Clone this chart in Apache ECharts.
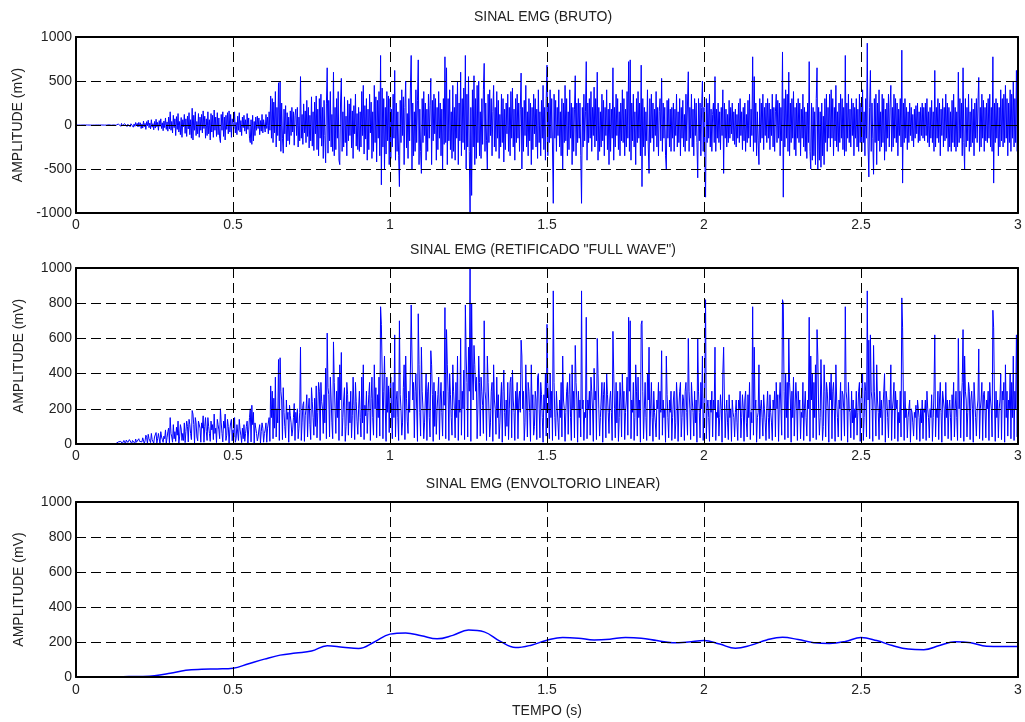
<!DOCTYPE html>
<html>
<head>
<meta charset="utf-8">
<script src="https://cdn.jsdelivr.net/npm/echarts@6/dist/echarts.min.js"></script>
<style>html,body{margin:0;padding:0;background:#fff}#chart{width:1025px;height:722px}</style>
</head>
<body>
<div id="chart"></div>
<script>
// ---- data ----
const SAMPLE_STEP = 0.0025;   // seconds between samples of the raw / rectified signals
const rawSignal = [
0,1,0,-1,1,0,-1,1,0,0,1,-1,0,1,-1,0,1,0,-1,1,0,-1,1,0,-1,1,0,0,1,-1,0,1,-1,0,1,0,-1,1,0,-1,
1,-1,2,-1,1,-2,2,-1,1,-2,2,-3,8,-5,12,-10,6,-15,18,-8,10,-20,15,-6,22,-18,9,-12,25,-20,14,-8,20,-25,12,-15,28,-10,18,-22,
30,-15,25,-40,12,-35,45,-20,18,-50,38,-10,55,-30,22,-45,60,-25,15,-55,40,-35,65,-20,30,-60,50,-15,70,-40,25,-65,45,-30,80,-50,35,-70,90,-45,
150,-60,40,-90,110,-30,70,-120,95,-50,130,-80,40,-110,85,-140,60,-20,120,-95,70,-130,100,-45,140,-110,60,-150,190,-170,110,-60,150,-120,40,-100,130,-140,90,-60,
120,-90,160,-40,100,-150,70,-120,150,-100,60,-170,130,-80,110,-140,170,-60,90,-130,140,-110,80,-150,-200,120,-60,150,-130,90,-170,110,-50,140,-100,160,-80,120,-140,70,
80,-40,150,-90,30,-110,100,-60,140,-80,50,-120,90,-30,110,-70,60,-100,130,-50,80,-150,-200,60,-220,110,-180,40,-120,90,-60,100,-40,80,-110,50,-70,120,-90,60,
60,-80,120,-40,90,-100,150,-60,330,-150,300,-200,260,-90,380,-250,200,-120,480,-180,490,-300,250,-150,-320,180,-100,220,-250,140,-180,90,-220,160,-120,200,-80,150,-230,110,
180,-120,200,-250,90,-180,550,-150,120,-220,240,-90,160,-200,280,-130,200,-260,110,-180,320,-240,150,-290,260,-100,330,-280,180,-350,300,-150,350,-240,200,-380,280,-120,-430,240,
650,-320,280,-180,380,-250,120,-300,600,-350,200,-280,300,-150,380,-400,-450,250,530,-300,150,-250,320,-200,100,-350,280,-180,240,-120,300,-260,160,-380,220,-100,350,-240,130,-280,
200,-300,150,-250,380,-120,450,-330,220,-160,300,-400,180,-280,350,-90,260,-380,150,-300,450,-200,320,-420,280,-150,380,-350,790,-680,420,-250,300,-500,200,-330,380,-180,330,-450,
300,-380,180,-250,350,-150,620,-400,250,-300,150,-350,-700,280,-200,400,-120,320,-450,200,500,-260,130,-380,300,-180,420,790,-500,250,-350,150,-300,400,-200,280,740,-450,180,-300,
-550,300,-200,380,-120,250,-400,180,-300,350,-150,220,530,-450,280,-180,350,-100,300,-400,200,-280,380,-150,250,-350,180,-500,300,-220,775,-200,650,-450,300,-180,400,-280,150,-380,
450,-300,200,-400,350,-150,500,-450,250,-180,600,-350,300,-200,420,-280,790,-500,350,-250,550,-300,-1000,200,-800,400,-250,560,-450,300,-380,450,-200,500,-350,150,-380,300,-220,400,
700,-300,250,-180,-500,350,-200,400,-120,300,-350,150,450,-250,200,-300,380,-150,280,-380,120,-250,350,-200,300,-420,180,-280,250,-100,350,-300,200,-350,380,-150,420,-250,180,-400,
300,-200,350,-150,250,-300,180,590,-500,200,-300,280,-120,450,-250,150,-350,300,-180,250,-450,200,-280,350,-100,300,-250,180,-380,400,-200,150,-350,280,-150,450,-280,200,-400,300,
680,-350,250,-200,400,-150,300,-250,-890,350,-150,280,-300,200,-120,400,-250,150,-350,300,-500,250,-200,450,-180,300,-350,150,-280,400,-150,250,-450,200,-300,180,560,-350,250,-200,
300,-150,250,-350,-890,200,-250,350,-180,150,720,-400,250,-200,300,-150,380,-300,200,-120,430,-250,300,-180,600,-400,200,-300,150,-250,350,-180,280,-350,200,-120,400,-280,180,-450,
250,-300,180,-150,650,-400,200,-250,350,-120,300,-280,150,-350,250,-180,400,-200,300,-350,180,-250,380,-150,720,-300,740,-400,250,-180,350,-250,150,-450,300,-200,380,-150,250,-350,
680,-700,300,-250,200,-350,150,-180,400,-250,-550,300,-200,350,-150,250,-300,180,-120,380,-250,200,-350,150,300,-180,530,-300,250,-150,200,-350,-500,280,-150,300,-250,180,-300,200,
-150,250,-300,180,-120,350,-250,150,-200,300,-350,200,-150,280,-250,120,-300,350,-180,250,605,-300,200,-150,350,-250,180,-350,300,-120,250,-200,-600,300,-180,250,-350,200,500,-300,
200,-350,-820,300,-200,250,-150,350,-250,180,-300,120,250,-200,550,-300,180,-150,250,-200,150,-280,200,-120,400,-550,250,-150,180,-250,120,-200,280,-150,200,-100,250,-180,150,-220,
180,-250,120,-150,250,-200,300,-120,150,-280,200,-180,250,-300,120,-200,280,-150,350,-250,180,-120,775,-300,550,-200,250,-350,150,-180,-450,300,-200,250,-150,350,-280,200,-120,250,
-200,300,-150,250,-280,180,-120,350,-250,200,-300,150,350,-200,280,-150,250,-350,200,-180,830,-820,300,-250,400,-150,350,-300,600,-350,250,-200,300,-150,380,-280,200,-350,250,-150,
300,-200,250,-350,180,-150,350,-250,200,-300,150,-380,250,-200,720,-300,-500,250,-400,200,-350,150,-450,300,650,-500,200,-400,150,-480,250,-350,100,-450,300,-200,350,-300,200,-150,
350,-250,400,-150,300,-350,200,-180,450,-250,150,-300,250,-200,350,-150,300,-280,200,-350,790,-300,250,-150,350,-200,180,-250,300,-120,250,-350,200,-150,300,-250,180,-300,350,-200,
250,-300,400,-200,150,-350,300,-150,930,-250,-590,200,620,-300,250,-150,-560,300,-200,350,-450,250,-180,400,-300,150,-250,350,-200,300,-400,180,-300,250,-150,350,-250,200,450,-300,
200,-250,350,-150,300,-200,250,-350,180,-120,300,-250,850,-660,250,-200,300,-150,200,-280,150,-200,250,-120,200,-180,120,-250,180,-150,220,-100,250,-200,150,-180,200,-120,250,-150,
200,-180,250,-120,300,-200,150,-250,200,-150,280,-200,150,-300,620,-250,200,-150,300,-200,250,-350,180,-120,300,-250,200,-180,350,-150,250,-300,200,-250,150,-300,280,-200,350,-250,
200,-300,150,-250,600,-200,300,-150,250,-350,650,-200,-500,300,-250,200,-180,350,-300,150,-250,300,-200,180,-350,250,-150,300,-200,250,540,-300,200,-250,350,-150,280,-300,200,-180,
250,-200,300,-150,350,-250,200,-300,775,-660,250,-200,300,-150,250,-350,200,-250,400,-180,300,-250,350,-200,450,-150,300,-350,250,-200,400,-300,350,-150,500,-250,300,-200,620,-300,
740
];
const rectifiedSignal = [
0,1,0,1,1,0,1,1,0,0,1,1,0,1,1,0,1,0,1,1,0,1,1,0,1,1,0,0,1,1,0,1,1,0,1,0,1,1,0,1,
1,1,2,1,1,2,2,1,1,2,2,3,8,5,12,2,6,15,18,3,10,20,15,1,22,18,9,4,25,20,14,2,20,25,12,3,28,10,18,5,
30,15,25,5,12,35,45,3,18,50,38,2,55,30,22,8,60,25,15,4,40,35,65,6,30,60,50,2,70,40,25,9,45,30,80,3,35,70,90,7,
150,60,40,10,110,30,70,15,95,50,130,5,40,110,85,20,60,20,120,8,70,130,100,12,140,110,60,25,190,170,110,6,150,120,40,18,130,140,90,10,
120,90,160,10,100,150,70,20,150,100,60,15,130,80,110,25,170,60,90,8,140,110,80,30,200,120,60,12,130,90,170,20,50,140,100,5,80,120,140,18,
80,40,150,10,30,110,100,20,140,80,50,8,90,30,110,15,60,100,130,5,80,150,200,12,220,110,180,6,120,90,60,18,40,80,110,4,70,120,90,10,
60,80,120,10,90,100,150,15,330,150,300,30,260,90,380,40,200,120,480,20,490,300,250,25,320,180,100,35,250,140,180,10,220,160,120,45,80,150,230,20,
180,120,200,30,90,180,550,20,120,220,240,15,160,200,280,40,200,260,110,25,320,240,150,50,260,100,330,35,180,350,300,20,350,240,200,60,280,120,430,30,
630,320,280,40,380,250,120,30,580,350,200,60,300,150,380,20,450,250,520,45,150,250,320,15,100,350,280,50,240,120,300,35,160,380,220,25,350,240,130,55,
200,300,150,40,380,120,450,25,220,160,300,60,180,280,350,20,260,380,150,50,450,200,320,35,280,150,380,45,780,680,420,30,300,500,200,15,380,180,330,65,
300,380,180,30,350,150,620,40,250,300,150,20,700,280,200,50,120,320,450,25,500,260,130,60,300,180,420,790,500,250,350,35,300,400,200,15,740,450,180,45,
550,300,200,30,120,250,400,20,300,350,150,40,530,450,280,15,350,100,300,55,200,280,380,25,250,350,180,45,300,220,775,30,650,450,300,20,400,280,150,50,
450,300,200,35,350,150,500,20,250,180,600,50,300,200,420,25,790,500,350,40,550,300,1000,15,800,400,250,560,450,300,380,30,200,500,350,45,380,300,220,60,
700,300,250,20,500,350,200,40,120,300,350,15,450,250,200,55,380,150,280,30,120,250,350,10,300,420,180,45,250,100,350,25,200,350,380,35,420,250,180,20,
300,200,350,30,250,300,180,590,500,200,300,20,120,450,250,40,350,300,180,15,450,200,280,50,100,300,250,25,380,400,200,35,350,280,150,10,280,200,400,45,
680,350,250,30,400,150,300,20,870,350,150,45,300,200,120,25,250,150,350,40,500,250,200,15,180,300,350,55,280,400,150,20,450,200,300,35,560,350,250,10,
300,150,250,40,870,200,250,20,180,150,720,30,250,200,300,50,380,300,200,15,430,250,300,25,600,400,200,45,150,250,350,10,280,350,200,35,400,280,180,60,
250,300,180,20,640,400,200,35,350,120,300,15,150,350,250,40,400,200,300,25,180,250,380,50,720,300,700,30,250,180,350,20,150,450,300,45,380,150,250,10,
680,700,300,30,200,350,150,20,400,250,550,45,200,350,150,15,300,180,120,40,250,200,350,25,300,180,530,50,250,150,200,10,500,280,150,35,250,180,300,20,
150,250,300,30,120,350,250,15,200,300,350,40,150,280,250,20,300,350,180,50,600,300,200,25,350,250,180,45,300,120,250,10,600,300,180,35,350,200,500,20,
200,350,820,30,200,250,150,15,250,180,300,40,250,200,550,20,180,150,250,45,150,280,200,10,400,550,250,35,180,250,120,25,280,150,200,15,250,180,150,40,
180,250,120,20,250,200,300,35,150,280,200,15,250,300,120,40,280,150,350,25,180,120,780,50,550,200,250,10,150,180,450,30,200,250,150,45,280,200,120,20,
200,300,150,30,280,180,120,20,250,200,300,40,350,200,280,15,250,350,200,50,820,800,300,25,400,150,350,35,600,350,250,10,300,150,380,45,200,350,250,20,
300,200,250,30,180,150,350,20,200,300,150,45,250,200,720,15,500,250,400,35,350,150,450,25,650,500,200,50,150,480,250,20,100,450,300,40,350,300,200,10,
350,250,400,30,300,350,200,15,450,250,150,40,250,200,350,20,300,280,200,45,780,300,250,10,350,200,180,35,300,120,250,25,200,150,300,50,180,300,350,15,
250,300,400,20,150,350,300,40,870,250,590,30,620,300,250,15,560,300,200,45,450,250,180,25,300,150,250,50,200,300,400,10,300,250,150,35,250,200,450,20,
200,250,350,30,300,200,250,15,180,120,300,40,830,660,250,20,300,150,200,35,150,200,250,10,200,180,120,45,180,150,220,25,250,200,150,15,200,120,250,30,
200,180,250,20,300,200,150,35,200,150,280,15,150,300,620,40,200,150,300,25,250,350,180,10,300,250,200,45,350,150,250,30,200,250,150,20,280,200,350,40,
200,300,150,20,600,200,300,35,250,350,650,15,500,300,250,40,180,350,300,25,250,300,200,10,350,250,150,45,200,250,540,30,200,250,350,20,280,300,200,35,
250,200,300,20,350,250,200,40,760,660,250,15,300,150,250,35,200,250,400,25,300,250,350,10,450,150,300,45,250,200,400,30,350,150,500,20,300,200,620,40,
740
];
const ENVELOPE_STEP = 0.05;
const envelopeSignal = [
0,1,1,2,3,7,21,38,44,46,50,76,102,125,137,148,178,170,163,200,
245,252,236,218,238,268,258,205,168,182,210,226,222,212,216,226,222,208,196,200,
208,188,164,182,212,227,214,196,192,203,226,208,180,160,156,180,202,196,176,174,
174
];
const panelTitles = ['SINAL EMG (BRUTO)', 'SINAL EMG (RETIFICADO "FULL WAVE")', 'SINAL EMG (ENVOLTORIO LINEAR)'];
const yAxisName = 'AMPLITUDE (mV)';
const xAxisName = 'TEMPO (s)';
const xRange = [0, 3, 0.5];
const yRanges = [[-1000, 1000, 500], [0, 1000, 200], [0, 1000, 200]];

// ---- chart ----
const FONT = "'Liberation Sans', Arial, sans-serif";
const TEXT = '#222';
const toPairs = (arr, step) => arr.map((v, i) => [Math.round(i * step * 10000) / 10000, v]);
const seriesData = [toPairs(rawSignal, SAMPLE_STEP), toPairs(rectifiedSignal, SAMPLE_STEP), toPairs(envelopeSignal, ENVELOPE_STEP)];

const panels = [{top: 37, height: 176}, {top: 268, height: 176}, {top: 502, height: 175}];
const titleY = [17, 250, 484];
const plain = v => String(v);
const FRAME = {show: true, onZero: false, lineStyle: {color: '#000', width: 2}};

const grid = [], xAxis = [], yAxis = [], series = [], graphic = [];
panels.forEach((p, i) => {
  grid.push({left: 76, right: 7, top: p.top, height: p.height, show: true, borderColor: '#000', borderWidth: 1, backgroundColor: '#fff'});
  const dash = {show: true, lineStyle: {color: '#000', type: [10, 5], width: 1}};
  xAxis.push({
    gridIndex: i, type: 'value', min: xRange[0], max: xRange[1], interval: xRange[2], z: 5,
    axisLine: FRAME,
    axisTick: {show: true, inside: true, length: 5, lineStyle: {color: '#000'}},
    axisLabel: {margin: i === 2 ? 6 : 5, fontSize: 14, color: TEXT, fontFamily: FONT, formatter: plain},
    splitLine: dash,
    name: i === 2 ? xAxisName : '', nameLocation: 'middle', nameGap: 27,
    nameTextStyle: {fontSize: 14, color: TEXT, fontFamily: FONT}
  });
  xAxis.push({
    gridIndex: i, type: 'value', position: 'top', min: xRange[0], max: xRange[1], interval: xRange[2], z: 5,
    axisLine: FRAME,
    axisTick: {show: true, inside: true, length: 5, lineStyle: {color: '#000'}},
    axisLabel: {show: false}, splitLine: {show: false}
  });
  const yr = yRanges[i];
  yAxis.push({
    gridIndex: i, type: 'value', min: yr[0], max: yr[1], interval: yr[2], z: 5,
    axisLine: FRAME,
    axisTick: {show: true, inside: true, length: 5, lineStyle: {color: '#000'}},
    axisLabel: {margin: 4, fontSize: 14, color: TEXT, fontFamily: FONT, formatter: plain},
    splitLine: dash,
    name: yAxisName, nameLocation: 'middle', nameGap: 50, nameRotate: 90,
    nameTextStyle: {fontSize: 14, color: TEXT, fontFamily: FONT}
  });
  yAxis.push({
    gridIndex: i, type: 'value', position: 'right', min: yr[0], max: yr[1], interval: yr[2], z: 5,
    axisLine: FRAME,
    axisTick: {show: true, inside: true, length: 5, lineStyle: {color: '#000'}},
    axisLabel: {show: false}, splitLine: {show: false}
  });
  series.push({
    type: 'line', xAxisIndex: 2 * i, yAxisIndex: 2 * i, data: seriesData[i],
    showSymbol: false, symbol: 'none', smooth: i === 2 ? 0.4 : false, z: 2, sampling: false,
    lineStyle: {color: '#0000ff', width: i === 2 ? 1.5 : 1}, itemStyle: {color: '#0000ff'}, clip: true
  });
  graphic.push({
    type: 'text', x: 543, y: titleY[i], silent: true,
    style: {text: panelTitles[i], fill: TEXT, font: '14px ' + FONT, align: 'center', verticalAlign: 'middle'}
  });
});

const chart = echarts.init(document.getElementById('chart'), null, {renderer: 'canvas'});
chart.setOption({animation: false, backgroundColor: '#fff', grid, xAxis, yAxis, series, graphic});
</script>
</body>
</html>
